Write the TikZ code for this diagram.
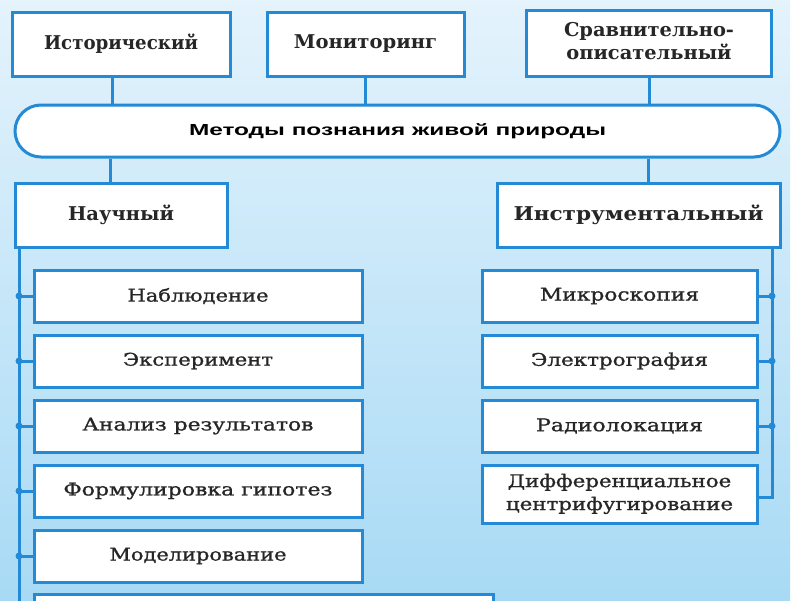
\documentclass[tikz,border=0pt]{standalone}
\usepackage{fontspec}
\usepackage{graphicx}
\setmainfont{DejaVu Serif}
\newfontfamily\childfont{DejaVu Serif}[FakeBold=1]
\newfontfamily\titlefont{Liberation Sans}
\definecolor{bline}{RGB}{36,138,214}
\definecolor{txt}{RGB}{38,38,38}
\definecolor{bgtop}{RGB}{228,243,252}
\definecolor{bgmid}{RGB}{186,226,248}
\definecolor{bgbot}{RGB}{168,218,245}
\newcommand\fw[2]{\resizebox{#1}{\height}{#2}}
\newcommand\hfont{\fontsize{19}{23}\selectfont\bfseries}
\newcommand\cfont{\childfont\fontsize{17.5}{23}\selectfont}
\begin{document}
\begin{tikzpicture}[x=1pt,y=-1pt,
  box/.style={draw=bline, line width=3pt, fill=white, inner sep=0pt, text=txt},
  conn/.style={draw=bline, line width=3pt},
  hbox/.style={box, font=\hfont, minimum height=64pt},
  cbox/.style={box, font=\cfont, minimum height=52pt},
  lbox/.style={cbox, minimum width=328pt},
  rbox/.style={cbox, minimum width=275pt}]
\useasboundingbox (0,0) rectangle (800,600);
\clip (0,0) rectangle (800,600);
\fill[white] (0,0) rectangle (800,600);
\shade[top color=bgtop, middle color=bgmid, bottom color=bgbot] (0,0) rectangle (790,600);
% top row
\node[hbox, minimum width=218pt] (hist) at (121,44) {\fw{154pt}{Исторический}};
\node[hbox, minimum width=197pt] (mon) at (365.5,44) {\fw{143pt}{Мониторинг}};
\node[hbox, minimum width=245pt, minimum height=66pt] (cmp) at (649,43.5)
  {\fw{170pt}{\begin{tabular}{@{}c@{}}Сравнительно-\\описательный\end{tabular}}};
% bar
\node[box, minimum width=765pt, minimum height=52pt, rounded corners=26pt, text=black,
  font=\titlefont\bfseries\fontsize{16}{19}\selectfont] (bar) at (397.5,131)
  {\fw{417pt}{Методы познания живой природы}};
\draw[conn] ([xshift=-9pt]hist.south) -- ([xshift=-9pt]hist.south |- bar.north);
\draw[conn] (mon.south) -- (mon.south |- bar.north);
\draw[conn] (cmp.south) -- (cmp.south |- bar.north);
% second row
\node[hbox, minimum width=212pt] (sci) at (121,215) {\fw{106pt}{Научный}};
\node[hbox, minimum width=283pt] (instr) at (638.5,215) {\fw{250pt}{Инструментальный}};
\draw[conn] ([xshift=-11pt]sci.north) -- ([xshift=-11pt]sci.north |- bar.south);
\draw[conn] ([xshift=9.5pt]instr.north) -- ([xshift=9.5pt]instr.north |- bar.south);
% left children
\node[lbox] (l1) at (198,296) {\fw{141pt}{Наблюдение}};
\node[lbox] (l2) at (198,361) {\fw{150pt}{Эксперимент}};
\node[lbox] (l3) at (198,426) {\fw{231pt}{Анализ результатов}};
\node[lbox] (l4) at (198,491) {\fw{269pt}{Формулировка гипотез}};
\node[lbox] (l5) at (198,556) {\fw{177pt}{Моделирование}};
\node[cbox, minimum width=459pt] (l6) at (263.5,620) {};
\coordinate (lbus) at (19,610);
\draw[conn] (sci.south -| lbus) -- (lbus);
\foreach \n in {l1,l2,l3,l4,l5}{
  \draw[conn] (\n.west) -- (\n.west -| lbus);
  \fill[bline] (\n.west -| lbus) circle (3.5pt);
}
% right children
\node[rbox] (r1) at (619.5,296) {\fw{159pt}{Микроскопия}};
\node[rbox] (r2) at (619.5,361) {\fw{177pt}{Электрография}};
\node[rbox] (r3) at (619.5,426) {\fw{167pt}{Радиолокация}};
\node[rbox, minimum height=58pt] (r4) at (619.5,494)
  {\fw{227pt}{\begin{tabular}{@{}c@{}}Дифференциальное\\центрифугирование\end{tabular}}};
\coordinate (rbus) at (772,0);
\draw[conn] (instr.south -| rbus) -- ([yshift=-3pt]r4.east -| rbus) -- ([yshift=-3pt]r4.east);
\foreach \n in {r1,r2,r3}{
  \draw[conn] (\n.east) -- (\n.east -| rbus);
  \fill[bline] (\n.east -| rbus) circle (3.5pt);
}
\end{tikzpicture}
\end{document}
